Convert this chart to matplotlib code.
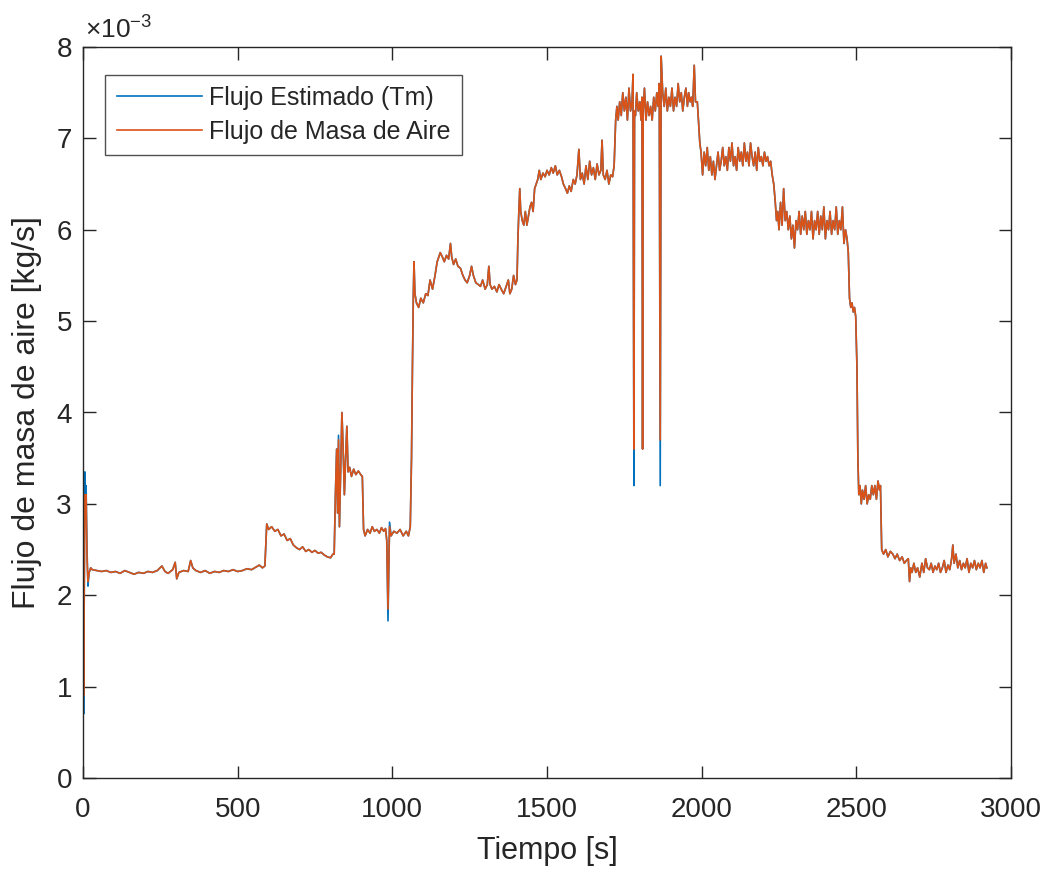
import matplotlib
matplotlib.use("Agg")
import matplotlib.pyplot as plt

plt.rcParams['font.family'] = ['Liberation Sans', 'DejaVu Sans']
plt.rcParams['mathtext.fontset'] = 'custom'
plt.rcParams['mathtext.rm'] = 'Liberation Sans'
plt.rcParams['mathtext.it'] = 'Liberation Sans'

# tiempo [s] y flujo de masa de aire [x1e-3 kg/s]
tiempo = [0, 2, 4, 6, 8, 10, 13, 16, 20, 25,
          30, 45, 60, 75, 90, 105, 120, 135, 150, 165, 180, 195, 210, 225, 240,
          255, 265, 275, 290, 298, 303, 310, 325, 340, 348, 355, 365, 380, 395,
          410, 425, 440, 455, 470, 485, 500, 515, 530, 545, 560, 570, 580, 588,
          594, 600, 610, 620, 630, 640, 650, 660, 670, 680, 690, 700, 710, 720,
          730, 740, 750, 760, 770, 780, 790, 800, 808, 812, 816, 820, 823, 826,
          829, 833, 837, 841, 845, 849, 853, 857, 862, 868, 875, 882, 890, 898,
          903, 907, 912, 920, 928, 935, 942, 950, 958, 965, 972, 978, 982, 986,
          989, 991, 996, 1005, 1015, 1025, 1035, 1045, 1052, 1058, 1062, 1065,
          1068, 1070, 1073, 1078, 1085, 1092, 1100, 1108, 1115, 1122, 1130, 1138,
          1145, 1150, 1155, 1162, 1168, 1175, 1182, 1188, 1192, 1198, 1205, 1212,
          1220, 1228, 1235, 1242, 1250, 1256, 1262, 1270, 1278, 1285, 1292, 1300,
          1307, 1312, 1316, 1322, 1330, 1338, 1345, 1352, 1360, 1368, 1375, 1380,
          1386, 1392, 1398, 1403, 1406, 1409, 1412, 1415, 1420, 1425, 1430, 1435,
          1440, 1445, 1450, 1455, 1460, 1465, 1470, 1475, 1480, 1487, 1494, 1500,
          1507, 1514, 1520, 1527, 1533, 1540, 1547, 1553, 1560, 1566, 1572, 1578,
          1585, 1591, 1597, 1603, 1608, 1614, 1620, 1626, 1632, 1638, 1644, 1650,
          1656, 1662, 1668, 1674, 1678, 1682, 1688, 1694, 1700, 1706, 1712, 1717,
          1722, 1726, 1730, 1735, 1740, 1745, 1750, 1755, 1760, 1765, 1770, 1775,
          1778, 1781, 1783, 1786, 1790, 1795, 1800, 1804, 1807, 1809, 1811, 1815,
          1820, 1825, 1830, 1835, 1840, 1845, 1850, 1855, 1859, 1863, 1866, 1869,
          1874, 1879, 1884, 1889, 1894, 1899, 1904, 1909, 1914, 1919, 1924, 1929,
          1934, 1939, 1944, 1949, 1954, 1958, 1963, 1967, 1971, 1976, 1980, 1986,
          1994, 1998, 2003, 2008, 2013, 2018, 2023, 2028, 2033, 2038, 2043, 2048,
          2053, 2058, 2063, 2068, 2073, 2078, 2083, 2088, 2093, 2098, 2103, 2108,
          2113, 2118, 2123, 2128, 2133, 2138, 2143, 2148, 2153, 2158, 2163, 2168,
          2173, 2178, 2183, 2188, 2193, 2198, 2203, 2208, 2213, 2218, 2223, 2228,
          2233, 2238, 2242, 2246, 2250, 2255, 2260, 2265, 2270, 2275, 2280, 2285,
          2290, 2295, 2300, 2305, 2310, 2315, 2320, 2325, 2330, 2335, 2340, 2345,
          2350, 2355, 2360, 2365, 2370, 2375, 2380, 2385, 2390, 2395, 2400, 2405,
          2410, 2415, 2420, 2425, 2430, 2435, 2440, 2445, 2450, 2455, 2460, 2465,
          2470, 2474, 2478, 2482, 2486, 2490, 2494, 2498, 2502, 2505, 2508, 2512,
          2516, 2520, 2525, 2530, 2535, 2540, 2545, 2550, 2555, 2560, 2565, 2570,
          2575, 2578, 2582, 2588, 2595, 2602, 2610, 2618, 2625, 2632, 2640, 2648,
          2655, 2662, 2668, 2672, 2676, 2680, 2686, 2692, 2698, 2705, 2712, 2718,
          2724, 2730, 2736, 2742, 2748, 2754, 2760, 2766, 2772, 2778, 2784, 2790,
          2796, 2802, 2808, 2812, 2816, 2822, 2828, 2834, 2840, 2846, 2852, 2858,
          2864, 2870, 2876, 2882, 2888, 2894, 2900, 2906, 2912, 2918, 2922]

flujo_aire = [2.3, 0.9, 2.0, 3.1, 2.9, 3.1, 2.4, 2.15, 2.25, 2.3,
              2.28, 2.27, 2.26, 2.27, 2.25, 2.26, 2.24, 2.27, 2.25, 2.23, 2.25, 2.24, 2.26, 2.25, 2.27,
              2.32, 2.26, 2.24, 2.28, 2.36, 2.18, 2.25, 2.27, 2.26, 2.38, 2.3, 2.27, 2.25, 2.27,
              2.24, 2.26, 2.25, 2.27, 2.26, 2.28, 2.26, 2.27, 2.29, 2.28, 2.31, 2.33, 2.3, 2.32,
              2.78, 2.72, 2.75, 2.7, 2.72, 2.65, 2.67, 2.6, 2.62, 2.55, 2.52, 2.5, 2.53, 2.48,
              2.5, 2.47, 2.49, 2.46, 2.47, 2.44, 2.42, 2.41, 2.45, 2.45, 3.1, 3.6, 2.9, 3.7,
              2.75, 3.4, 4.0, 3.6, 3.1, 3.5, 3.85, 3.35, 3.4, 3.3, 3.38, 3.32, 3.36, 3.32,
              3.3, 2.72, 2.65, 2.72, 2.68, 2.75, 2.7, 2.72, 2.68, 2.74, 2.7, 2.73, 2.6, 1.85,
              2.4, 2.75, 2.65, 2.7, 2.68, 2.72, 2.65, 2.7, 2.65, 2.75, 3.5, 4.5,
              5.3, 5.65, 5.3, 5.2, 5.15, 5.25, 5.2, 5.3, 5.28, 5.45, 5.35, 5.5,
              5.65, 5.7, 5.75, 5.7, 5.65, 5.72, 5.68, 5.85, 5.7, 5.62, 5.68, 5.6,
              5.58, 5.5, 5.45, 5.42, 5.5, 5.6, 5.5, 5.42, 5.4, 5.38, 5.45, 5.35,
              5.4, 5.6, 5.4, 5.35, 5.38, 5.32, 5.4, 5.35, 5.3, 5.38, 5.45, 5.3,
              5.35, 5.5, 5.4, 5.45, 5.9, 6.2, 6.45, 6.2, 6.1, 6.05, 6.2, 6.05,
              6.15, 6.25, 6.3, 6.2, 6.45, 6.5, 6.55, 6.65, 6.55, 6.62, 6.58, 6.65,
              6.6, 6.68, 6.62, 6.7, 6.6, 6.65, 6.58, 6.5, 6.45, 6.4, 6.48, 6.42,
              6.55, 6.5, 6.6, 6.88, 6.55, 6.62, 6.5, 6.7, 6.55, 6.75, 6.6, 6.68,
              6.55, 6.72, 6.6, 6.65, 6.98, 6.6, 6.55, 6.65, 6.5, 6.6, 6.58, 6.7,
              7.2, 7.35, 7.2, 7.4, 7.25, 7.5, 7.3, 7.45, 7.2, 7.55, 7.3, 7.4,
              7.7, 3.6, 7.3, 7.25, 7.5, 7.3, 7.4, 7.2, 7.45, 3.6, 7.3, 7.55,
              7.2, 7.4, 7.25, 7.35, 7.2, 7.45, 7.3, 7.5, 7.35, 7.6, 3.7, 7.9,
              7.5, 7.35, 7.55, 7.3, 7.45, 7.35, 7.55, 7.3, 7.45, 7.35, 7.6, 7.4,
              7.5, 7.3, 7.45, 7.55, 7.35, 7.5, 7.4, 7.45, 7.35, 7.8, 7.4, 7.4,
              6.95, 6.85, 6.6, 6.85, 6.7, 6.9, 6.65, 6.8, 6.6, 6.75, 6.55, 6.7,
              6.85, 6.65, 6.75, 6.9, 6.7, 6.8, 6.65, 6.9, 6.75, 6.95, 6.7, 6.8,
              6.65, 6.9, 6.75, 6.85, 6.7, 6.95, 6.75, 6.85, 6.7, 6.95, 6.8, 6.7,
              6.85, 6.65, 6.9, 6.75, 6.8, 6.7, 6.85, 6.75, 6.8, 6.7, 6.75, 6.6,
              6.5, 6.3, 6.1, 6.2, 6.0, 6.3, 6.05, 6.45, 6.1, 6.2, 6.0, 6.15,
              5.9, 6.05, 5.8, 6.1, 6.0, 6.2, 5.95, 6.15, 6.0, 6.2, 5.95, 6.1,
              6.0, 6.2, 5.9, 6.1, 6.0, 6.2, 5.95, 6.15, 6.0, 6.25, 5.9, 6.1,
              6.0, 6.2, 5.95, 6.1, 6.0, 6.25, 5.95, 6.1, 6.0, 6.25, 5.85, 6.0,
              5.9, 5.75, 5.25, 5.15, 5.2, 5.1, 5.15, 5.05, 4.5, 3.5, 3.1, 3.2,
              3.0, 3.15, 3.05, 3.2, 3.0, 3.1, 3.05, 3.2, 3.1, 3.2, 3.05, 3.25,
              3.15, 3.2, 2.5, 2.45, 2.5, 2.42, 2.48, 2.45, 2.4, 2.45, 2.38, 2.42,
              2.35, 2.38, 2.4, 2.15, 2.3, 2.25, 2.35, 2.25, 2.3, 2.2, 2.35, 2.25,
              2.4, 2.3, 2.28, 2.35, 2.25, 2.32, 2.28, 2.35, 2.25, 2.3, 2.38, 2.25,
              2.33, 2.28, 2.4, 2.55, 2.35, 2.45, 2.3, 2.38, 2.28, 2.35, 2.3, 2.4,
              2.25, 2.35, 2.3, 2.38, 2.28, 2.35, 2.3, 2.38, 2.25, 2.35, 2.3]

# el flujo estimado coincide salvo en estos instantes
t_diferencia = [0, 2, 6, 8, 10, 13, 16, 826, 986, 991, 1781, 1866]
flujo_est_diferencia = [2.3, 0.7, 3.35, 3.0, 3.2, 2.5, 2.1, 3.75, 1.72, 2.8, 3.2, 3.2]

flujo_est = list(flujo_aire)
for t, v in zip(t_diferencia, flujo_est_diferencia):
    flujo_est[tiempo.index(t)] = v

fig = plt.figure(figsize=(10.48, 8.72), dpi=100)
ax = fig.add_axes([83/1048, 1 - 778/872, 928/1048, 731/872])

ax.plot(tiempo, [v*1e-3 for v in flujo_est], color='#0072BD', lw=1.2, label='Flujo Estimado (Tm)')
ax.plot(tiempo, [v*1e-3 for v in flujo_aire], color='#D95319', lw=1.2, label='Flujo de Masa de Aire')

ax.set_xlim(0, 3000)
ax.set_ylim(0, 8e-3)
ax.set_xticks([0, 500, 1000, 1500, 2000, 2500, 3000])
ax.set_yticks([i*1e-3 for i in range(9)])
ax.set_yticklabels([str(i) for i in range(9)])
ax.tick_params(direction='in', top=True, right=True, length=9, width=1,
               labelsize=20, colors='#262626')
ax.tick_params(axis='x', pad=14)
ax.tick_params(axis='y', pad=8)
for s in ax.spines.values():
    s.set_color('#262626')
    s.set_linewidth(1)

ax.set_xlabel('Tiempo [s]', fontsize=22, color='#262626')
ax.set_ylabel('Flujo de masa de aire [kg/s]', fontsize=23, color='#262626')
ax.xaxis.set_label_coords(0.5, -0.079)
ax.yaxis.set_label_coords(-0.044, 0.5)
ax.text(0.002, 1.004, r'$\times10^{-3}$', transform=ax.transAxes, fontsize=19,
        color='#262626', ha='left', va='bottom')

leg = ax.legend(loc='upper left', bbox_to_anchor=(0.024, 0.962), fontsize=18,
                frameon=True, fancybox=False, handlelength=3.4, handletextpad=0.3,
                labelspacing=0.4, borderpad=0.45, borderaxespad=0)
leg.get_frame().set_edgecolor('#262626')
leg.get_frame().set_linewidth(1)
for txt in leg.get_texts():
    txt.set_color('#262626')

fig.savefig('out.png', dpi=100, facecolor='white')
